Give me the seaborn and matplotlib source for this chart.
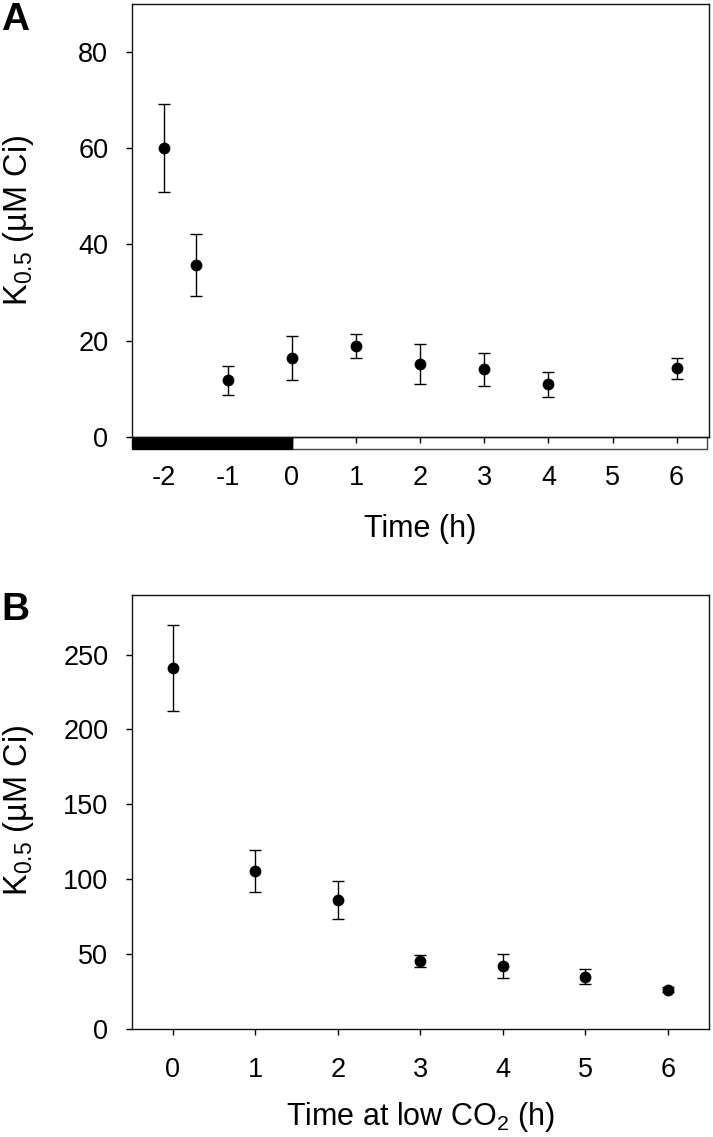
import numpy as np
import pandas as pd
import seaborn as sns
import matplotlib
matplotlib.use("Agg")
import matplotlib.pyplot as plt
from matplotlib.patches import Rectangle
import matplotlib.transforms as mtransforms

# panel A: K0.5 vs time (dark period before 0)
time_a = [-2, -1.5, -1, 0, 1, 2, 3, 4, 6]
k05_a = [60.0, 35.7, 11.8, 16.4, 18.9, 15.2, 14.1, 11.0, 14.3]
err_a = [9.2, 6.4, 3.0, 4.6, 2.5, 4.2, 3.4, 2.6, 2.2]

# panel B: K0.5 vs time at low CO2
time_b = [0, 1, 2, 3, 4, 5, 6]
k05_b = [241.0, 105.5, 86.0, 45.5, 42.0, 35.0, 26.3]
err_b = [28.5, 14.0, 12.7, 4.2, 8.0, 4.8, 1.5]

sns.set_style("ticks")
plt.rcParams["font.family"] = ["Liberation Sans", "DejaVu Sans"]
plt.rcParams["mathtext.fontset"] = "custom"
plt.rcParams["mathtext.rm"] = "Liberation Sans"
plt.rcParams["mathtext.it"] = "Liberation Sans:italic"
plt.rcParams["mathtext.bf"] = "Liberation Sans:bold"
plt.rcParams["axes.unicode_minus"] = False
for key in ["text.color", "axes.labelcolor", "xtick.color", "ytick.color", "axes.edgecolor"]:
    plt.rcParams[key] = "black"

W, H = 713, 1137
fig = plt.figure(figsize=(W / 100, H / 100), dpi=100)


def px_axes(left, top, right, bottom):
    return fig.add_axes([left / W, 1 - bottom / H, (right - left) / W, (bottom - top) / H])


def style_axes(ax):
    for sp in ax.spines.values():
        sp.set_visible(True)
        sp.set_linewidth(1.0)
        sp.set_color("#111111")
    ax.set_axisbelow(False)
    ax.tick_params(axis="both", direction="out", length=4.5, width=1.0,
                   labelsize=19.5, color="black", labelcolor="black")
    ax.tick_params(axis="x", pad=15.5)
    ax.tick_params(axis="y", pad=12.3)
    ax.set_xlabel("")
    ax.set_ylabel("")


def draw_points(ax, x, y, e):
    ax.errorbar(x, y, yerr=e, fmt="none", ecolor="black", elinewidth=1.0,
                capsize=4.5, capthick=1.0, zorder=2)
    df = pd.DataFrame({"x": x, "y": y})
    sns.scatterplot(data=df, x="x", y="y", ax=ax, color="black", s=72,
                    edgecolor="black", linewidth=0, zorder=3, legend=False)


ylab = r"K$_{\mathregular{0.5}}$ (µM Ci)"

# ---- panel A
axA = px_axes(131.7, 3.5, 708.7, 437.3)
draw_points(axA, time_a, k05_a, err_a)
axA.set_xlim(-2.5, 6.5)
axA.set_ylim(0, 90)
axA.set_xticks([-2, -1, 0, 1, 2, 3, 4, 5, 6])
axA.set_yticks([0, 20, 40, 60, 80])
style_axes(axA)

# light/dark bar under the axis
trans = mtransforms.blended_transform_factory(axA.transData, axA.transAxes)
bar_h = 12 / 433.8
axA.add_patch(Rectangle((0, -bar_h), 6.47, bar_h, transform=trans, clip_on=False,
                        facecolor="white", edgecolor="#444444", linewidth=1.0, zorder=1))
axA.add_patch(Rectangle((-2.5, -bar_h), 2.5, bar_h, transform=trans, clip_on=False,
                        facecolor="black", edgecolor="black", linewidth=1.0, zorder=1))

# ---- panel B
axB = px_axes(131.7, 594.7, 709.0, 1029.0)
draw_points(axB, time_b, k05_b, err_b)
axB.set_xlim(-0.5, 6.5)
axB.set_ylim(0, 290)
axB.set_xticks(range(0, 7))
axB.set_yticks([0, 50, 100, 150, 200, 250])
style_axes(axB)

# axis labels
cx = (131.7 + 708.8) / 2 / W
fig.text(cx, 1 - 536.7 / H, "Time (h)", ha="center", va="baseline", fontsize=22)
fig.text(cx, 1 - 1125 / H, r"Time at low CO$_{\mathregular{2}}$ (h)", ha="center",
         va="baseline", fontsize=22)
fig.text(18 / W, 1 - 220.4 / H, ylab, rotation=90, ha="center", va="center", fontsize=23.5)
fig.text(18 / W, 1 - 810 / H, ylab, rotation=90, ha="center", va="center", fontsize=23.5)

# panel letters
fig.text(1 / W, 1 - 2 / H, "A", ha="left", va="top", fontsize=28, fontweight="bold")
fig.text(1 / W, 1 - 592 / H, "B", ha="left", va="top", fontsize=28, fontweight="bold")

fig.savefig("out.png", dpi=100)
